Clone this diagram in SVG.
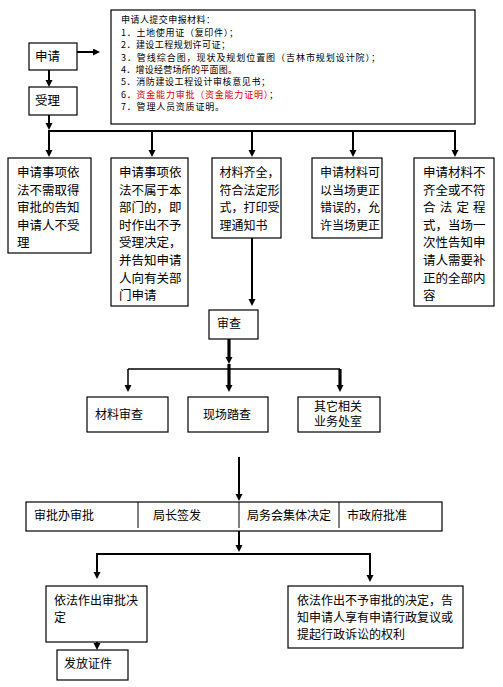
<svg xmlns="http://www.w3.org/2000/svg" width="503" height="687" viewBox="0 0 503 687">
<defs>
<style>
.box{fill:#fff;stroke:#000;stroke-width:1.2}
.t{font-family:"Noto Sans CJK SC","Noto Sans",sans-serif;font-size:12px;fill:#000}
.t13{font-family:"Noto Sans CJK SC","Noto Sans",sans-serif;font-size:12.5px;fill:#000}
.ts{font-family:"Noto Sans CJK SC","Noto Sans",sans-serif;font-size:9px;fill:#000}
.red{fill:#e00000}
.c{stroke:#000;stroke-width:2;fill:none}
.thick{stroke-width:3.2}
.thin{stroke-width:1.5}
</style>
<marker id="ah" markerUnits="userSpaceOnUse" markerWidth="8" markerHeight="8" refX="1" refY="3.5" orient="auto">
<path d="M0,0 L7,3.5 L0,7 z" fill="#000"/>
</marker>
</defs>
<rect width="503" height="687" fill="#fff"/>

<g id="materials">
<rect class="box" x="111" y="10" width="364" height="114"/>
<text class="ts" x="121" y="23" textLength="94" lengthAdjust="spacing">申请人提交申报材料：</text>
<text class="ts" x="121" y="35.5" textLength="117" lengthAdjust="spacing">1．土地使用证（复印件）；</text>
<text class="ts" x="121" y="48" textLength="109" lengthAdjust="spacing">2．建设工程规划许可证；</text>
<text class="ts" x="121" y="60.5" textLength="259" lengthAdjust="spacing">3．管线综合图，现状及规划位置图（吉林市规划设计院）；</text>
<text class="ts" x="121" y="72.5" textLength="116" lengthAdjust="spacing">4．增设经营场所的平面图。</text>
<text class="ts" x="121" y="85" textLength="149" lengthAdjust="spacing">5．消防建设工程设计审核意见书；</text>
<text class="ts" x="121" y="97.5" textLength="157" lengthAdjust="spacing">6．<tspan class="red">资金能力审批（资金能力证明）</tspan>；</text>
<text class="ts" x="121" y="110" textLength="103" lengthAdjust="spacing">7．管理人员资质证明。</text>
</g>

<g id="apply">
<rect class="box" x="29" y="43" width="48" height="27"/>
<text class="t13" x="35" y="61">申请</text>
</g>
<g id="accept">
<rect class="box" x="29" y="87" width="48" height="28"/>
<text class="t13" x="35" y="105">受理</text>
</g>

<g id="r1">
<rect class="box" x="8" y="158" width="83" height="95"/>
<text class="t13"><tspan x="17" y="177">申请事项依</tspan><tspan x="17" y="194.6">法不需取得</tspan><tspan x="17" y="212.2">审批的告知</tspan><tspan x="17" y="229.8">申请人不受</tspan><tspan x="17" y="247.4">理</tspan></text>
</g>
<g id="r2">
<rect class="box" x="111" y="158" width="77" height="148"/>
<text class="t13"><tspan x="119" y="177">申请事项依</tspan><tspan x="119" y="194.6">法不属于本</tspan><tspan x="119" y="212.2">部门的，即</tspan><tspan x="119" y="229.8">时作出不予</tspan><tspan x="119" y="247.4">受理决定，</tspan><tspan x="119" y="265">并告知申请</tspan><tspan x="119" y="282.6">人向有关部</tspan><tspan x="119" y="300.2">门申请</tspan></text>
</g>
<g id="r3">
<rect class="box" x="212" y="158" width="69" height="80"/>
<text class="t"><tspan x="219.5" y="177">材料齐全，</tspan><tspan x="219.5" y="194.6">符合法定形</tspan><tspan x="219.5" y="212.2">式，打印受</tspan><tspan x="219.5" y="229.8">理通知书</tspan></text>
</g>
<g id="r4">
<rect class="box" x="312" y="158" width="70" height="80"/>
<text class="t"><tspan x="320" y="177">申请材料可</tspan><tspan x="320" y="194.6">以当场更正</tspan><tspan x="320" y="212.2">错误的，允</tspan><tspan x="320" y="229.8">许当场更正</tspan></text>
</g>
<g id="r5">
<rect class="box" x="414" y="158" width="80" height="148"/>
<text class="t13"><tspan x="423" y="177">申请材料不</tspan><tspan x="423" y="194.6">齐全或不符</tspan><tspan x="423" y="212.2" letter-spacing="4.2">合法定程</tspan><tspan x="423" y="229.8">式，当场一</tspan><tspan x="423" y="247.4">次性告知申</tspan><tspan x="423" y="265">请人需要补</tspan><tspan x="423" y="282.6">正的全部内</tspan><tspan x="423" y="300.2">容</tspan></text>
</g>

<g id="review">
<rect class="box" x="209" y="310" width="49" height="29"/>
<text class="t" x="217" y="328">审查</text>
</g>
<g id="rv1">
<rect class="box" x="87" y="397" width="81" height="35"/>
<text class="t" x="95" y="419">材料审查</text>
</g>
<g id="rv2">
<rect class="box" x="188" y="397" width="80" height="35"/>
<text class="t" x="203" y="419">现场踏查</text>
</g>
<g id="rv3">
<rect class="box" x="298" y="397" width="82" height="35"/>
<text class="t"><tspan x="314" y="410.5">其它相关</tspan><tspan x="314" y="425.5">业务处室</tspan></text>
</g>

<g id="approve">
<rect class="box" x="26" y="502" width="416" height="29"/>
<line x1="138" y1="502" x2="138" y2="528" stroke="#000" stroke-width="1"/>
<line x1="239" y1="502" x2="239" y2="528" stroke="#000" stroke-width="1"/>
<line x1="339" y1="502" x2="339" y2="528" stroke="#000" stroke-width="1"/>
<text class="t" x="34" y="520">审批办审批</text>
<text class="t" x="153" y="520">局长签发</text>
<text class="t" x="247" y="520">局务会集体决定</text>
<text class="t" x="347" y="520">市政府批准</text>
</g>

<g id="yes">
<rect class="box" x="46" y="586" width="101" height="56"/>
<text class="t"><tspan x="54" y="605">依法作出审批决</tspan><tspan x="54" y="622">定</tspan></text>
</g>
<g id="no">
<rect class="box" x="288" y="586" width="175" height="62"/>
<text class="t"><tspan x="297" y="605">依法作出不予审批的决定，告</tspan><tspan x="297" y="622">知申请人享有申请行政复议或</tspan><tspan x="297" y="639">提起行政诉讼的权利</tspan></text>
</g>
<g id="issue">
<rect class="box" x="57" y="650" width="71" height="30"/>
<text class="t" x="64" y="668">发放证件</text>
</g>

<g id="connectors">
<line class="c" x1="77" y1="52" x2="94" y2="52" marker-end="url(#ah)"/>
<line class="c" x1="49" y1="70" x2="49" y2="81" marker-end="url(#ah)"/>
<line class="c" x1="49" y1="115" x2="49" y2="124" marker-end="url(#ah)"/>
<line class="c" x1="48" y1="131" x2="456" y2="131"/>
<line class="c" x1="49" y1="131" x2="49" y2="151" marker-end="url(#ah)"/>
<line class="c" x1="152" y1="131" x2="152" y2="151" marker-end="url(#ah)"/>
<line class="c" x1="252" y1="131" x2="252" y2="151" marker-end="url(#ah)"/>
<line class="c" x1="353" y1="131" x2="353" y2="151" marker-end="url(#ah)"/>
<line class="c" x1="455" y1="131" x2="455" y2="151" marker-end="url(#ah)"/>
<line class="c" x1="252" y1="238" x2="252" y2="300" marker-end="url(#ah)"/>
<line class="c thick" x1="229" y1="339" x2="229" y2="358" marker-end="url(#ah)"/>
<line class="c thin" x1="128" y1="369" x2="340" y2="369"/>
<line class="c thin" x1="128" y1="369" x2="128" y2="386" marker-end="url(#ah)"/>
<line class="c thick" x1="229" y1="364" x2="229" y2="386" marker-end="url(#ah)"/>
<line class="c thick" x1="340" y1="369" x2="340" y2="386" marker-end="url(#ah)"/>
<line class="c" x1="239" y1="457" x2="239" y2="495" marker-end="url(#ah)"/>
<line class="c" x1="239" y1="531" x2="239" y2="546" marker-end="url(#ah)"/>
<line class="c" x1="96" y1="554" x2="371" y2="554"/>
<line class="c" x1="97" y1="554" x2="97" y2="573" marker-end="url(#ah)"/>
<line class="c" x1="370" y1="554" x2="370" y2="576" marker-end="url(#ah)"/>
<line class="c" x1="97" y1="642" x2="97" y2="644" marker-end="url(#ah)"/>
</g>
</svg>
